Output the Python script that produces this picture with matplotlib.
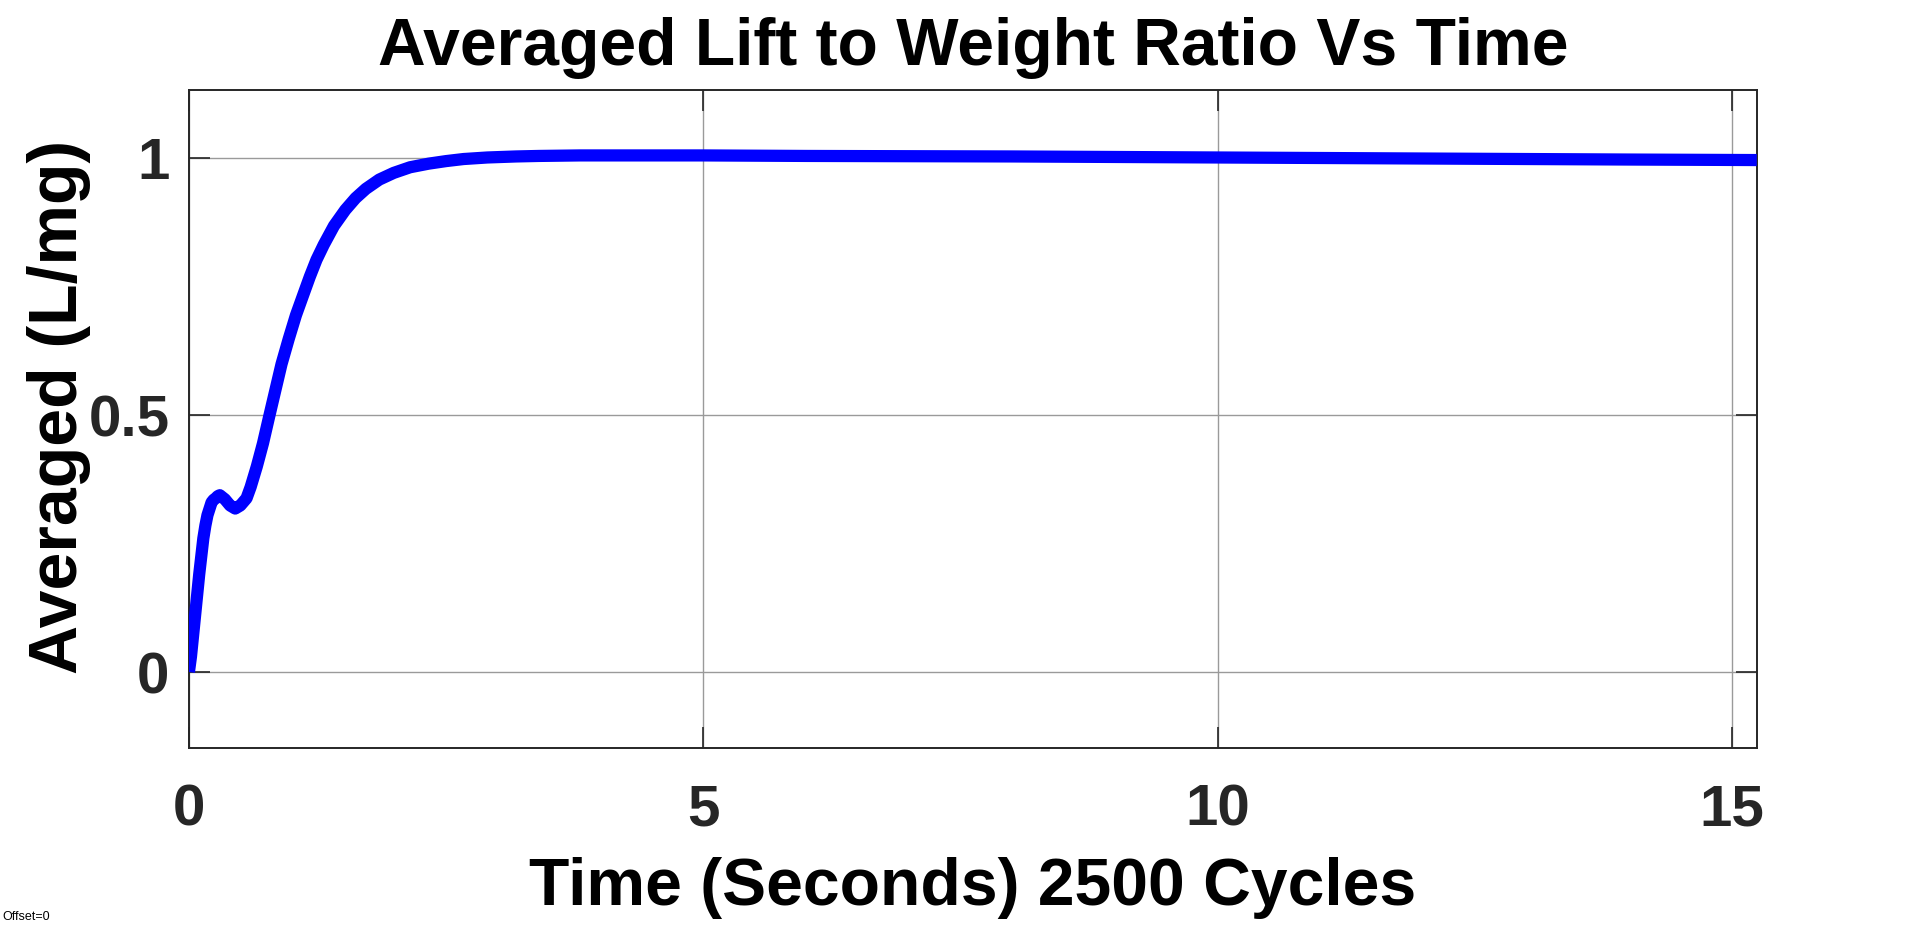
import matplotlib
matplotlib.use("Agg")
import matplotlib.pyplot as plt

# averaged L/mg
time_s = [0, 0.02, 0.04, 0.06, 0.08, 0.10, 0.12, 0.14, 0.16, 0.18, 0.22, 0.24,
          0.26, 0.28, 0.30, 0.35, 0.40, 0.45, 0.50, 0.56, 0.60, 0.66, 0.72,
          0.78, 0.84, 0.90, 0.97, 1.04, 1.11, 1.175, 1.24, 1.31, 1.41, 1.52,
          1.62, 1.72, 1.85, 1.99, 2.15, 2.33, 2.50, 2.67, 2.90, 3.18, 3.40,
          3.80, 5.0, 6.0, 8.0, 10.0, 12.0, 14.0, 15.24]
lift_ratio = [0, 0.03, 0.07, 0.11, 0.15, 0.19, 0.225, 0.26, 0.285, 0.305,
              0.33, 0.335, 0.338, 0.342, 0.344, 0.336, 0.324, 0.318, 0.324,
              0.338, 0.36, 0.40, 0.445, 0.497, 0.548, 0.599, 0.648, 0.694,
              0.733, 0.769, 0.802, 0.831, 0.868, 0.899, 0.922, 0.94, 0.958,
              0.971, 0.982, 0.989, 0.994, 0.998, 1.001, 1.003, 1.004, 1.005,
              1.005, 1.004, 1.003, 1.001, 0.999, 0.997, 0.996]

x_ticks = [0, 5, 10, 15]
y_ticks = [0, 0.5, 1]
y_tick_labels = ["0", "0.5", "1"]

plt.rcParams['font.family'] = ['Liberation Sans', 'DejaVu Sans']

fig = plt.figure(figsize=(19.2, 9.26), dpi=100)
ax = fig.add_axes([0.0984, 0.1927, 0.8166, 0.7105])

ax.plot(time_s, lift_ratio, color=(0, 0, 1), linewidth=8.8,
        solid_joinstyle='round', solid_capstyle='butt', zorder=3)

ax.set_xlim(0, 15.24)
ax.set_ylim(-0.147, 1.133)
ax.set_xticks(x_ticks)
ax.set_yticks(y_ticks)
ax.set_yticklabels(y_tick_labels)

ax.grid(True, color='#9a9a9a', linewidth=1.0)
ax.set_axisbelow(True)
ax.tick_params(direction='in', length=15, width=1.2, top=True, right=True,
               labelsize=42, colors='#262626', pad=14)
ax.tick_params(axis='x', pad=26)
for lbl in ax.get_xticklabels() + ax.get_yticklabels():
    lbl.set_fontweight('bold')
for spine in ax.spines.values():
    spine.set_linewidth(1.4)
    spine.set_color('#262626')

ax.set_title('Averaged Lift to Weight Ratio Vs Time', fontsize=47.5,
             fontweight='bold', pad=18)
ax.set_xlabel('Time (Seconds) 2500 Cycles', fontsize=47.5, fontweight='bold',
              va='center')
ax.set_ylabel('Averaged (L/mg)', fontsize=49, fontweight='bold', va='center')
ax.xaxis.set_label_coords(0.5, -0.214)
ax.yaxis.set_label_coords(-0.0830, 0.517)

fig.text(0.001, 0.0065, 'Offset=0', fontsize=9, color='black')

fig.savefig('out.png', dpi=100, facecolor='white')
plt.close(fig)
